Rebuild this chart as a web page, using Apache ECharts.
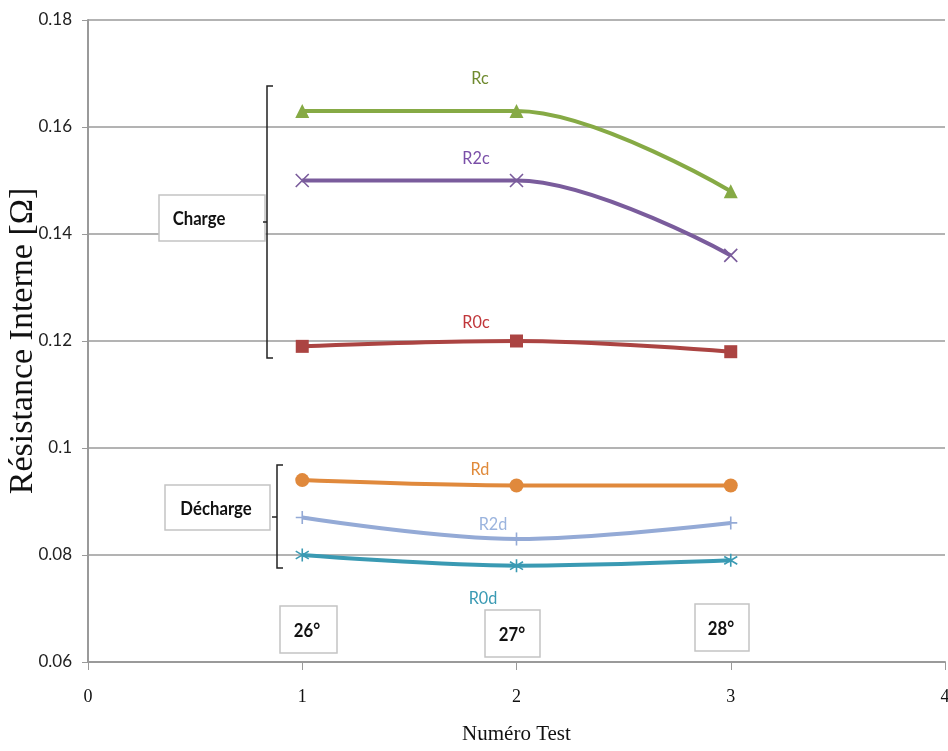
<!DOCTYPE html>
<html><head><meta charset="utf-8">
<script src="https://cdn.jsdelivr.net/npm/echarts@6/dist/echarts.min.js"></script>
<style>html,body{margin:0;padding:0;background:#fff}#c{width:948px;height:751px}</style>
</head><body><div id="c"></div>
<script>
const tests = [1, 2, 3];
const Rc  = [0.163, 0.163, 0.148];
const R2c = [0.150, 0.150, 0.136];
const R0c = [0.119, 0.120, 0.118];
const Rd  = [0.094, 0.093, 0.093];
const R2d = [0.087, 0.083, 0.086];
const R0d = [0.080, 0.078, 0.079];
const seriesNames = ['Rc', 'R2c', 'R0c', 'Rd', 'R2d', 'R0d'];
const temps = ['26°', '27°', '28°'];
const groups = ['Charge', 'Décharge'];

const narrow = 'Lato, "Open Sans", sans-serif';
const serif = '"Liberation Serif", "DejaVu Serif", serif';

const colors = ['#86aa45', '#7a5c9c', '#ab4442', '#e0893c', '#94aad6', '#3a9ab3'];
const labelColors = ['#6f8a2e', '#7a4fa8', '#c0363a', '#e08a3a', '#9bb4de', '#3a9ab3'];
const symbols = [
  'triangle', 'path://M0,0L10,10M10,0L0,10', 'rect', 'circle',
  'path://M5,0L5,10M0,5L10,5', 'path://M5,0L5,10M0,2L10,8M10,2L0,8'
];
const symbolSizes = [14, 13, 13, 14, 13, 13];
const lineSets = [Rc, R2c, R0c, Rd, R2d, R0d];

const series = lineSets.map((vals, i) => {
  const stroke = symbols[i].startsWith('path://');
  return {
    name: seriesNames[i], type: 'line', smooth: 0.35,
    data: tests.map((t, j) => [t, vals[j]]),
    symbol: symbols[i], symbolSize: symbolSizes[i],
    lineStyle: { color: colors[i], width: 4 },
    itemStyle: stroke ? { color: 'none', borderColor: colors[i], borderWidth: 1.6 } : { color: colors[i] },
    z: 3
  };
});

const labelPos = [[480, 78], [476, 158], [476, 322], [480, 469], [493, 524], [483, 598]];
const graphic = [];
seriesNames.forEach((n, i) => {
  graphic.push({ type: 'text', x: labelPos[i][0], y: labelPos[i][1], scaleX: 0.9,
    style: { text: n, fill: labelColors[i], font: '18px ' + narrow, textAlign: 'center', textVerticalAlign: 'middle' }, z: 10 });
});
// brackets
graphic.push({ type: 'polyline', shape: { points: [[273, 86], [267, 86], [267, 358], [273, 358]] }, style: { stroke: '#222', lineWidth: 1.5, fill: null }, z: 10 });
graphic.push({ type: 'line', shape: { x1: 267, y1: 222, x2: 263, y2: 222 }, style: { stroke: '#222', lineWidth: 1.5 }, z: 10 });
graphic.push({ type: 'polyline', shape: { points: [[283, 465], [277, 465], [277, 568], [283, 568]] }, style: { stroke: '#222', lineWidth: 1.5, fill: null }, z: 10 });
graphic.push({ type: 'line', shape: { x1: 277, y1: 517, x2: 272, y2: 517 }, style: { stroke: '#222', lineWidth: 1.5 }, z: 10 });
// boxes: x, y, w, h, text, textCenterX
const boxes = [
  [159, 195, 106, 46, groups[0], 199], [165, 485, 105, 45, groups[1], 216],
  [280, 606, 57, 47, temps[0], 307], [485, 610, 55, 47, temps[1], 512], [695, 604, 54, 47, temps[2], 721]
];
boxes.forEach(b => {
  graphic.push({ type: 'rect', shape: { x: b[0], y: b[1], width: b[2], height: b[3] },
    style: { fill: '#fff', stroke: '#c4c4c4', lineWidth: 1.5 }, z: 9 });
  graphic.push({ type: 'text', x: b[5], y: b[1] + b[3] / 2 + 1, scaleX: 0.88,
    style: { text: b[4], fill: '#111', font: 'bold 19px ' + narrow, textAlign: 'center', textVerticalAlign: 'middle' }, z: 10 });
});

const chart = echarts.init(document.getElementById('c'));
chart.setOption({
  animation: false,
  backgroundColor: '#fff',
  grid: { left: 88, right: 3, top: 20, bottom: 89, containLabel: false, outerBoundsMode: 'none' },
  xAxis: {
    type: 'value', min: 0, max: 4, interval: 1,
    name: 'Numéro Test', nameLocation: 'middle', nameGap: 62, nameMoveOverlap: false,
    nameTextStyle: { fontFamily: serif, fontSize: 21, color: '#111' },
    axisLine: { lineStyle: { color: '#9a9a9a', width: 2 } },
    axisTick: { show: true, length: 8, lineStyle: { color: '#9a9a9a', width: 1 } },
    axisLabel: { fontFamily: serif, fontSize: 18, color: '#111', margin: 26 },
    splitLine: { show: false }
  },
  yAxis: {
    type: 'value', min: 0.06, max: 0.18, interval: 0.02,
    name: 'Résistance Interne [Ω]', nameLocation: 'middle', nameGap: 48, nameRotate: 90,
    nameMoveOverlap: false,
    nameTextStyle: { fontFamily: serif, fontSize: 34, color: '#111' },
    axisLine: { show: true, lineStyle: { color: '#9a9a9a', width: 2 } },
    axisTick: { show: true, length: 6, lineStyle: { color: '#9a9a9a' } },
    axisLabel: { fontFamily: narrow, fontSize: 17, color: '#222', margin: 16,
      formatter: v => String(+v.toFixed(2)) },
    splitLine: { show: true, lineStyle: { color: '#9a9a9a', width: 1.5 } }
  },
  series: series,
  graphic: graphic
});
</script></body></html>
